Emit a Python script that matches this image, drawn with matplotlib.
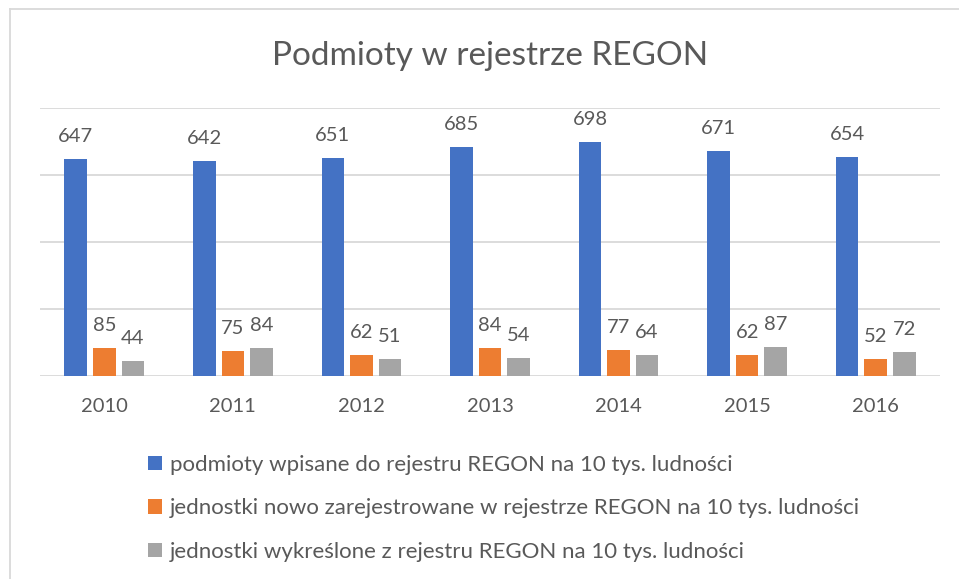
import matplotlib.pyplot as plt
import numpy as np

years = ["2010", "2011", "2012", "2013", "2014", "2015", "2016"]
wpisane = [647, 642, 651, 685, 698, 671, 654]
nowe = [85, 75, 62, 84, 77, 62, 52]
wykreslone = [44, 84, 51, 54, 64, 87, 72]
labels = [
    "podmioty wpisane do rejestru REGON na 10 tys. ludności",
    "jednostki nowo zarejestrowane w rejestrze REGON na 10 tys. ludności",
    "jednostki wykreślone z rejestru REGON na 10 tys. ludności",
]
colors = ["#4472C4", "#ED7D31", "#A5A5A5"]

plt.rcParams['font.family'] = ['Lato', 'DejaVu Sans']
txt = "#595959"

fig = plt.figure(figsize=(9.59, 5.79), dpi=100)
ax = fig.add_axes([40/959, 1-376/579, 900/959, 268/579])

x = np.arange(len(years))
w = 0.175
step = 0.222
bars = []
for i, (vals, c) in enumerate(zip([wpisane, nowe, wykreslone], colors)):
    b = ax.bar(x + (i-1)*step, vals, w, color=c, label=labels[i], zorder=3)
    bars.append(b)
    for xi, v in zip(x + (i-1)*step, vals):
        ax.annotate(str(v), (xi, v), xytext=(0, 10), textcoords="offset points",
                    ha="center", va="bottom", fontsize=14.5, color=txt)

ax.set_xlim(-0.5, len(years)-0.5)
ax.set_ylim(0, 800)
ax.set_yticks([0, 200, 400, 600, 800])
ax.set_yticklabels([])
ax.tick_params(axis="y", length=0)
ax.set_xticks(x)
ax.set_xticklabels(years, fontsize=14.5, color=txt)
ax.tick_params(axis="x", length=0, pad=16)
ax.grid(axis="y", color="#d9d9d9", linewidth=1.3, zorder=0)
for s in ax.spines.values():
    s.set_visible(False)

fig.text(490/959, 1-56/579, "Podmioty w rejestrze REGON", ha="center", va="center",
         fontsize=24, color=txt)

fig.legend(handles=bars, labels=labels, loc="upper left",
           bbox_to_anchor=(128/959, 1-435/579), frameon=False, fontsize=16,
           labelcolor=txt, handlelength=0.62, handleheight=0.62, handletextpad=0.35,
           labelspacing=1.05)

# chart frame
fig.add_artist(plt.Line2D([10/959, 10/959], [0, 1-9/579], color="#d9d9d9", linewidth=1.3))
fig.add_artist(plt.Line2D([10/959, 1], [1-9/579, 1-9/579], color="#d9d9d9", linewidth=1.3))

fig.savefig("out.png", dpi=100)
